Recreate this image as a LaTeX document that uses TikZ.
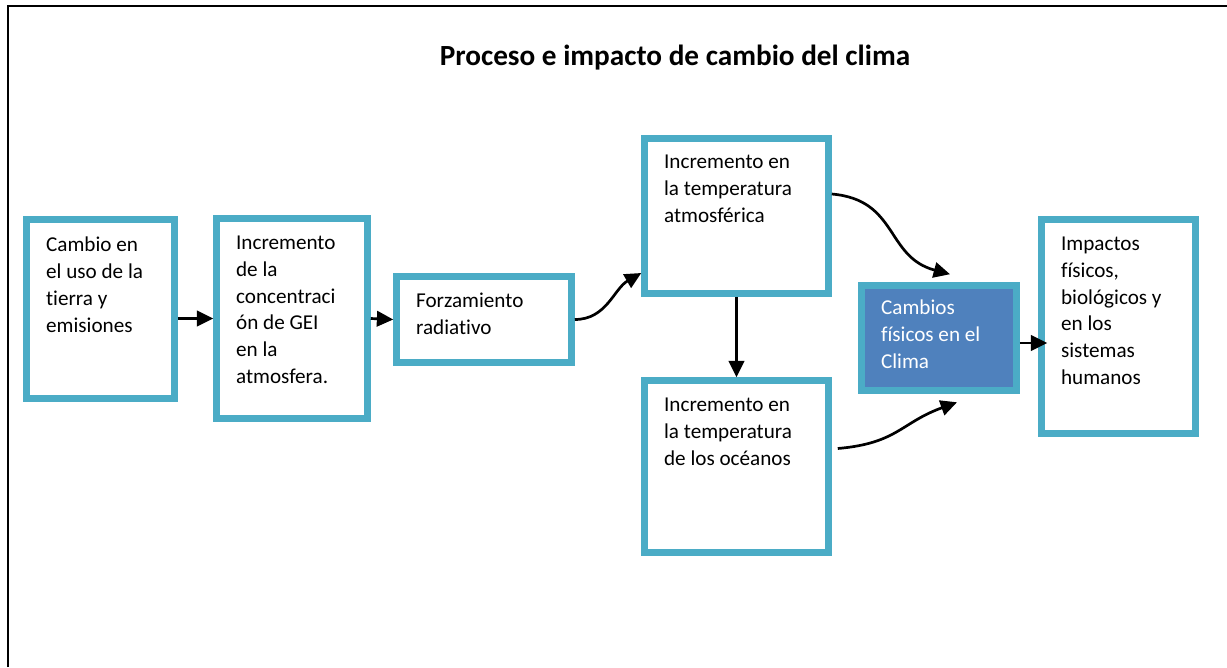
\documentclass[tikz,border=0pt]{standalone}
\usepackage{fontspec}
\setmainfont{Carlito}[Ligatures={NoCommon}]
\usepackage{tikz}
\usetikzlibrary{positioning}
\usetikzlibrary{arrows.meta}
\usetikzlibrary{fit}
\definecolor{boxblue}{HTML}{4BACC6}
\definecolor{fillblue}{HTML}{4F81BD}

\tikzset{
  box/.style={draw=boxblue, line width=3.4pt, inner sep=0pt, fill=white},
  boxtext/.style={anchor=north west, inner sep=0pt, align=left, font=\fontsize{11}{14}\selectfont},
  flow/.style={line width=1.4pt, -{Triangle[length=8.5pt,width=8pt]}},
}

\begin{document}
\begin{tikzpicture}[x=0.52pt,y=-0.52pt]
        \useasboundingbox (0,0) rectangle (1227,667);
        % frame
        \draw[line width=1.3pt] (8,667) -- (8,6) -- (1227,6);
        \node[font=\fontsize{15.2}{18}\selectfont\bfseries] (title) at (675,58) {Proceso e impacto de cambio del clima};
        % boxes
        \node[box, fit={(26.5,219.5) (174.5,398.5)}] (land) {};
        \node[box, fit={(216.5,218.5) (367.5,418.5)}] (ghg) {};
        \node[box, fit={(396.5,276.5) (571.5,362.5)}] (forcing) {};
        \node[box, fit={(644.5,138.5) (828.5,293.5)}] (atmo) {};
        \node[box, fit={(644.5,380.5) (828.5,552.5)}] (ocean) {};
        \node[box, fill=fillblue, fit={(861.5,285.5) (1016.5,390.5)}] (clima) {};
        \node[box, fit={(1041.5,219.5) (1195.5,433.5)}] (impact) {};
        % texts
        \node[boxtext] (landtxt) at ([shift={(22.5,20)}]land.north west) {Cambio en\\el uso de la\\tierra y\\emisiones};
        \node[boxtext] (ghgtxt) at ([shift={(22.5,20)}]ghg.north west) {Incremento\\de la\\concentraci\\ón de GEI\\en la\\atmosfera.};
        \node[boxtext] (forcingtxt) at ([shift={(22.5,19)}]forcing.north west) {Forzamiento\\radiativo};
        \node[boxtext] (atmotxt) at ([shift={(22.5,19.5)}]atmo.north west) {Incremento en\\la temperatura\\atmosférica};
        \node[boxtext] (oceantxt) at ([shift={(22.5,20)}]ocean.north west) {Incremento en\\la temperatura\\de los océanos};
        \node[boxtext, text=white] (climatxt) at ([shift={(22.5,17.5)}]clima.north west) {Cambios\\físicos en el\\Clima};
        \node[boxtext] (impacttxt) at ([shift={(22.5,20)}]impact.north west) {Impactos\\físicos,\\biológicos y\\en los\\sistemas\\humanos};
        % arrows
        \draw[flow] (land.east |- ghg.west) -- (ghg.west);
        \draw[flow] (ghg.east) -- (forcing.west);
        \draw[flow] (forcing.east) to[out=0, in=210] ([shift={(0,57)}]atmo.west);
        \draw[flow] (atmo.south) -- (ocean.north);
        \draw[flow] ([shift={(0,-22)}]atmo.east) to[out=-5, in=165, looseness=1.2] ([shift={(11,-8)}]clima.north);
        \draw[flow] ([shift={(6,-18)}]ocean.east) to[out=5, in=200, looseness=1.2] ([shift={(18,8.5)}]clima.south);
        \draw[flow] ([shift={(0,5)}]clima.east) -- ([shift={(9,5)}]clima.east -| impact.west);
    \end{tikzpicture}
\end{document}
